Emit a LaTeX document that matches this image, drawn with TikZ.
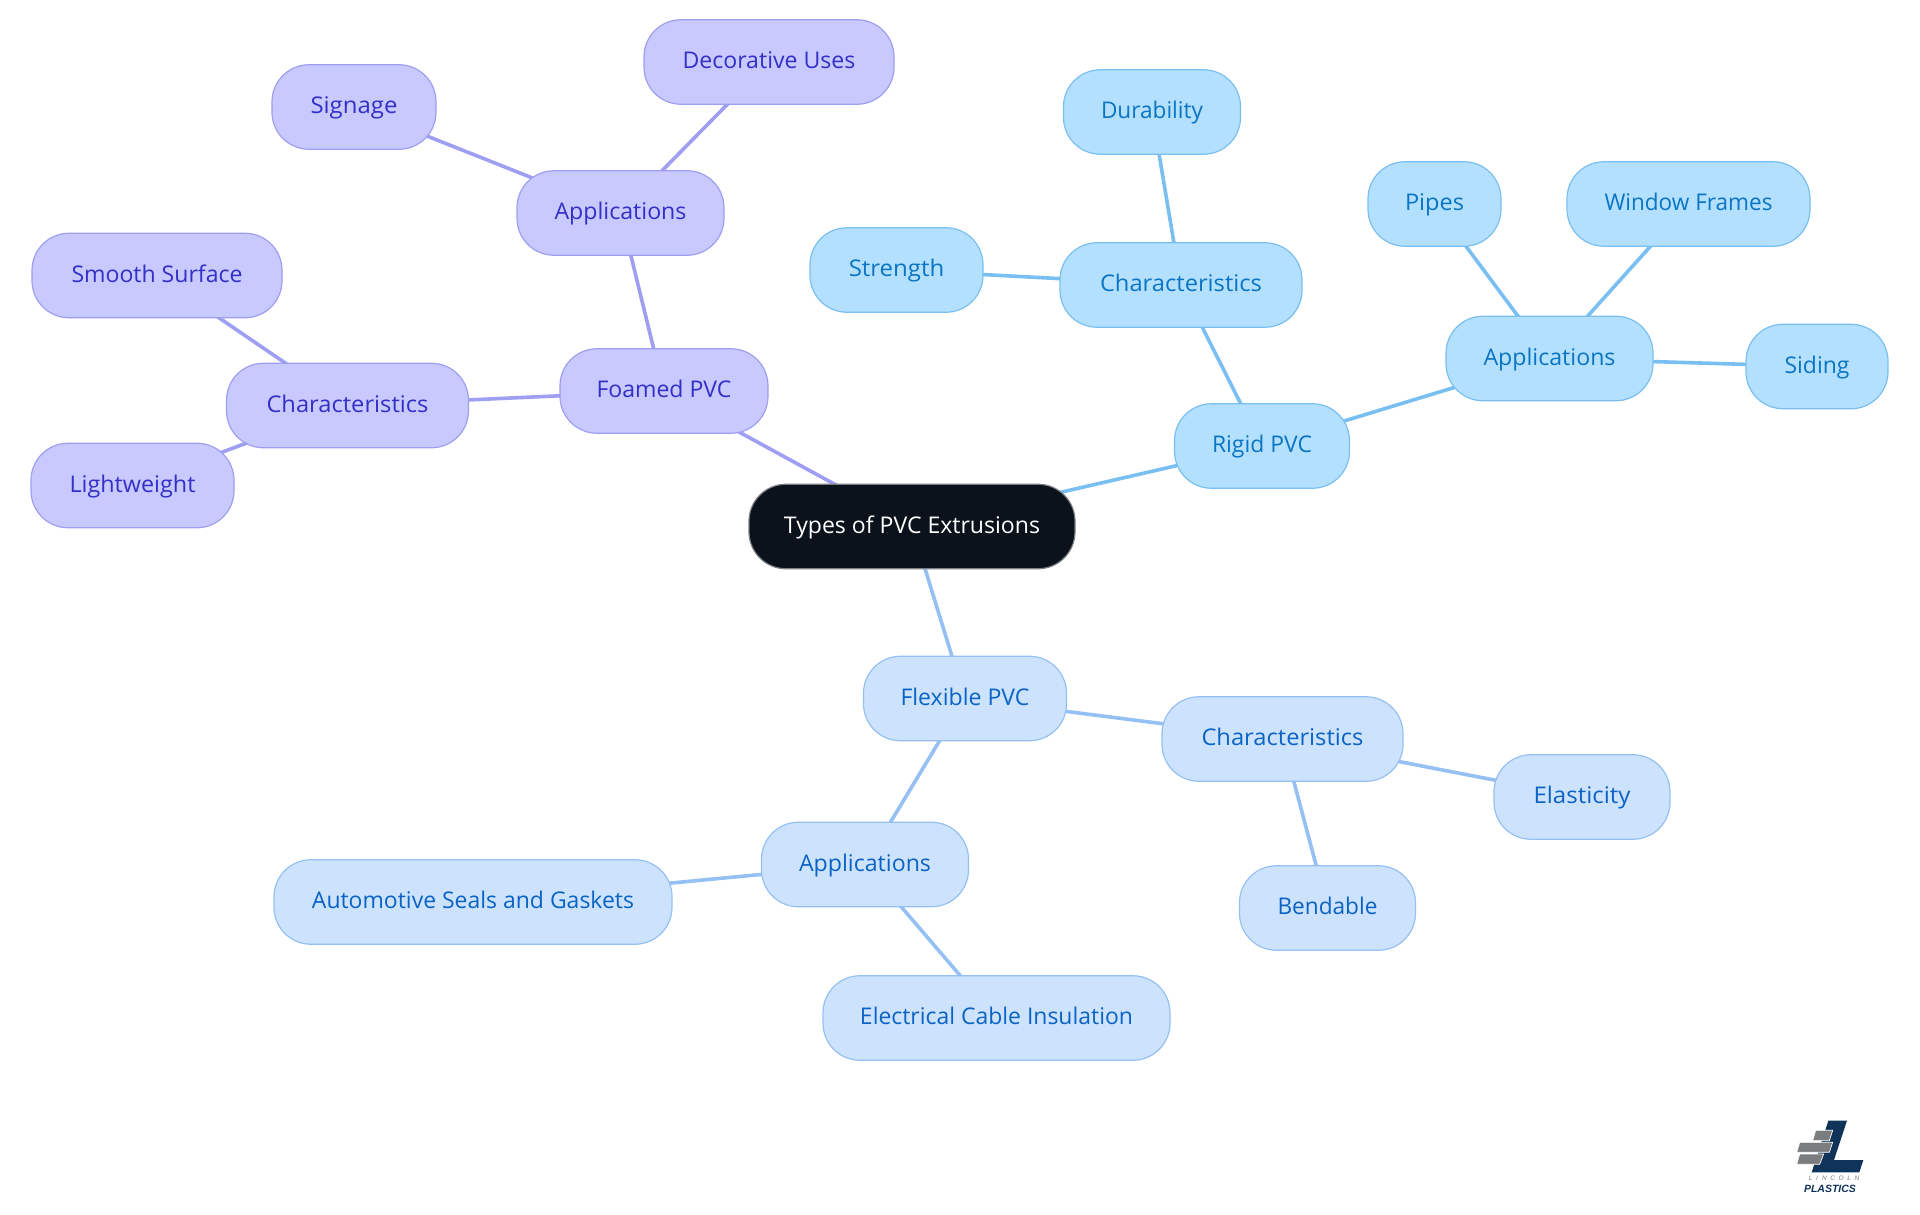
\documentclass[tikz,border=0pt]{standalone}
\usepackage{graphicx}
\usepackage{fontspec}
\setmainfont{Open Sans}
\newfontfamily\logofont{Liberation Sans}
\usetikzlibrary{backgrounds}
\newcommand{\fitw}[2]{\resizebox{#1pt}{\height}{#2}}
\definecolor{rootfill}{HTML}{0B121B}
\definecolor{rootline}{HTML}{7A7D82}
\definecolor{purfill}{HTML}{C8C9FE}
\definecolor{purline}{HTML}{9E9EF2}
\definecolor{purtext}{HTML}{3230C8}
\definecolor{skyfill}{HTML}{B4E0FF}
\definecolor{skyline}{HTML}{79BFF1}
\definecolor{skytext}{HTML}{0A75C4}
\definecolor{palefill}{HTML}{CDE3FD}
\definecolor{paleline}{HTML}{94C0F3}
\definecolor{paletext}{HTML}{0B63C6}
\definecolor{navy}{HTML}{0F3359}
\definecolor{brick}{HTML}{7B7C7E}
\tikzset{
  pill/.style={rectangle,rounded corners=37pt,minimum height=84.5pt,minimum width=#1,inner sep=0pt,line width=1.2pt,text height=20pt,text depth=6.4pt,font=\fontsize{23}{27}\selectfont},
  root/.style={pill=#1,fill=rootfill,draw=rootline,text=white},
  pur/.style={pill=#1,fill=purfill,draw=purline,text=purtext},
  sky/.style={pill=#1,fill=skyfill,draw=skyline,text=skytext},
  pale/.style={pill=#1,fill=palefill,draw=paleline,text=paletext},
  purlink/.style={draw=purline,line width=3.6pt},
  skylink/.style={draw=skyline,line width=3.6pt},
  palelink/.style={draw=paleline,line width=3.6pt},
  logobrick/.style={fill=brick,draw=white,line width=0.7pt},
}
\begin{document}
\begin{tikzpicture}[x=1pt,y=-1pt]
\useasboundingbox (0,0) rectangle (1920,1215);
\node[root=326pt] (c) at (912,526.5) {\fitw{256}{Types of PVC Extrusions}};
% foamed
\node[pur=208pt] (f) at (664,391) {\fitw{135}{Foamed PVC}};
\node[pur=207pt] (fa) at (620.5,213) {\fitw{132}{Applications}};
\node[pur=250pt] (fd) at (769,62) {\fitw{173}{Decorative Uses}};
\node[pur=164pt] (fs) at (354,107) {\fitw{87}{Signage}};
\node[pur=242pt] (fc) at (347.5,405.5) {\fitw{162}{Characteristics}};
\node[pur=250pt] (fm) at (157,275.5) {\fitw{171}{Smooth Surface}};
\node[pur=203pt] (fl) at (132.5,485.5) {\fitw{126}{Lightweight}};
% rigid
\node[sky=175pt] (r) at (1262,446) {\fitw{100}{Rigid PVC}};
\node[sky=242pt] (rc) at (1181,285) {\fitw{162}{Characteristics}};
\node[sky=177pt] (rd) at (1152,112) {\fitw{102}{Durability}};
\node[sky=173pt] (rs) at (896.5,270) {\fitw{95.5}{Strength}};
\node[sky=207pt] (ra) at (1549.5,358.5) {\fitw{132}{Applications}};
\node[sky=133pt] (rp) at (1434.5,204) {\fitw{59}{Pipes}};
\node[sky=243pt] (rw) at (1688.5,204) {\fitw{168}{Window Frames}};
\node[sky=142pt] (ri) at (1817,366.5) {\fitw{65}{Siding}};
% flexible
\node[pale=203pt] (x) at (965,698.5) {\fitw{129}{Flexible PVC}};
\node[pale=241pt] (xc) at (1282.5,739) {\fitw{162}{Characteristics}};
\node[pale=176pt] (xe) at (1582,797) {\fitw{97}{Elasticity}};
\node[pale=176pt] (xb) at (1327.5,908) {\fitw{100}{Bendable}};
\node[pale=207pt] (xa) at (865,864.5) {\fitw{132}{Applications}};
\node[pale=398pt] (xs) at (473,902) {\fitw{322}{Automotive Seals and Gaskets}};
\node[pale=347pt] (xi) at (996.5,1018) {\fitw{273}{Electrical Cable Insulation}};
\begin{scope}[on background layer]
\draw[purlink] (c.center) -- (f.center);
\draw[purlink] (f.center) -- (fa.center);
\draw[purlink] (fa.center) -- (fd.center);
\draw[purlink] (fa.center) -- (fs.center);
\draw[purlink] (f.center) -- (fc.center);
\draw[purlink] (fc.center) -- (fm.center);
\draw[purlink] (fc.center) -- (fl.center);
\draw[skylink] (c.center) -- (r.center);
\draw[skylink] (r.center) -- (rc.center);
\draw[skylink] (rc.center) -- (rd.center);
\draw[skylink] (rc.center) -- (rs.center);
\draw[skylink] (r.center) -- (ra.center);
\draw[skylink] (ra.center) -- (rp.center);
\draw[skylink] (ra.center) -- (rw.center);
\draw[skylink] (ra.center) -- (ri.center);
\draw[palelink] (c.center) -- (x.center);
\draw[palelink] (x.center) -- (xc.center);
\draw[palelink] (xc.center) -- (xe.center);
\draw[palelink] (xc.center) -- (xb.center);
\draw[palelink] (x.center) -- (xa.center);
\draw[palelink] (xa.center) -- (xs.center);
\draw[palelink] (xa.center) -- (xi.center);
\end{scope}
% logo
\begin{scope}[shift={(1760,1100)},x=0.3333pt,y=-0.3333pt]
\fill[navy] (205,62) -- (261,62) -- (222,180) -- (310,180) -- (298,217) -- (155,217) -- cycle;
\path[logobrick] (167,91) -- (218,91) -- (208,122) -- (158,122) -- cycle;
\path[logobrick] (119,127) -- (218,127) -- (208,157) -- (110,157) -- cycle;
\path[logobrick] (119,162) -- (191,162) -- (179,193) -- (110,193) -- cycle;
\node[inner sep=0pt,text=brick,font=\logofont\itshape\fontsize{6.5}{7}\selectfont] (ln) at (222,236) {L\hspace{3.6pt}I\hspace{4.2pt}N\hspace{3.6pt}C\hspace{3.6pt}O\hspace{3.6pt}L\hspace{3.6pt}N};
\node[inner sep=0pt,text=navy,font=\logofont\bfseries\itshape\fontsize{10.5}{11}\selectfont] (lp) at (210,266) {PLASTICS};
\end{scope}
\end{tikzpicture}
\end{document}
